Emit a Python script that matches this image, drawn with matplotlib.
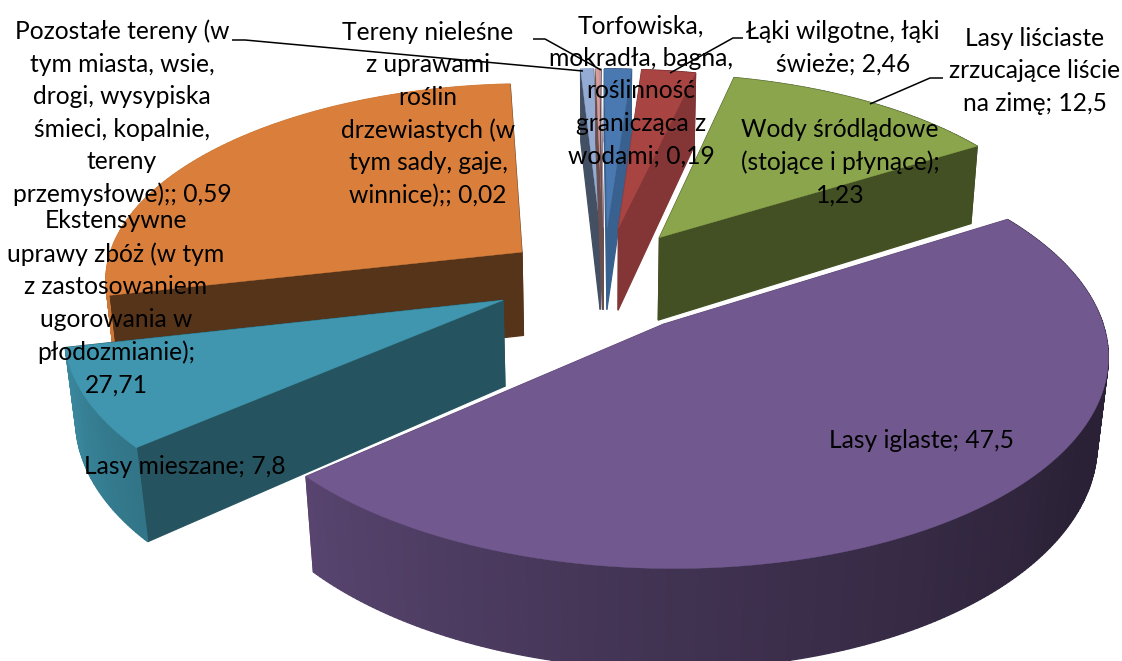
import numpy as np
import matplotlib
matplotlib.use('Agg')
import matplotlib.pyplot as plt
from matplotlib.colors import to_rgb

# clockwise from the green slice
names = ['Lasy liściaste', 'Lasy iglaste', 'Lasy mieszane', 'Ekstensywne uprawy zbóż',
         'Pozostałe tereny', 'Torfowiska', 'Tereny nieleśne', 'Wody śródlądowe', 'Łąki wilgotne']
values = [12.5, 47.5, 7.8, 27.71, 0.59, 0.19, 0.02, 1.23, 2.46]
top_colors = ['#8AA54B', '#71588F', '#4096AE', '#D97F3B', '#94ACD3', '#D79E9C', '#C9B6D0', '#4A78B0', '#A84442']
wall_colors = ['#435023', '#5E4872', '#255460', '#56341A', '#434F63', '#6B4F4E', '#6B4F4E', '#38618F', '#843535']
draw_order = [3, 4, 5, 6, 7, 8, 0, 2, 1]

# per slice tweaks of the 3d look
radius = [0.99, 1.02, 1.02, 1.0, 0.97, 0.97, 0.97, 0.97, 0.97]
nudge_x = [4, 3, -3, 4, 6, 6, 6, 6, 6]
nudge_y = [0, -6, -9, 3, 0, 0, 0, 0, 0]

label_texts = [
    'Lasy liściaste\nzrzucające liście\nna zimę; 12,5',
    'Lasy iglaste; 47,5',
    'Lasy mieszane; 7,8',
    'Ekstensywne\nuprawy zbóż (w tym\nz zastosowaniem\nugorowania w\npłodozmianie);\n27,71',
    'Pozostałe tereny (w\ntym miasta, wsie,\ndrogi, wysypiska\nśmieci, kopalnie,\ntereny\nprzemysłowe);; 0,59',
    'Torfowiska,\nmokradła, bagna,\nroślinność\ngranicząca z\nwodami; 0,19',
    'Tereny nieleśne\nz uprawami\nroślin\ndrzewiastych (w\ntym sady, gaje,\nwinnice);; 0,02',
    'Wody śródlądowe\n(stojące i płynące);\n1,23',
    'Łąki wilgotne, łąki\nświeże; 2,46',
]
label_pos = [(1035, 71), (921, 440), (185, 466), (116, 303), (122, 113),
             (641, 91), (428, 114), (840, 162), (843, 48)]
leaders = [
    [(943, 78), (930, 78), (870, 104)],
    [(232, 40), (245, 40), (583, 71)],
    [(533, 39), (545, 39), (601, 70)],
    [(743, 38), (733, 38), (670, 73)],
]

# camera
XC, YC = 598, 283
A, B = 420, 197
P = 0.127
DEPTH = 85
START = 13.0
EXPLODE = 0.243
EXPLODE_V = 1.2


def project(u, v, z=0.0):
    w = 1 + P * v
    shrink = 1 - 0.02 * z / w ** 2
    x = XC + A * u / w * shrink
    y = YC - B * v / w + DEPTH * z / w
    return x, y


def wall_shade(angle):
    return np.interp(angle % 360, [0, 60, 120, 180, 234, 262, 360],
                     [0.5, 0.38, 0.38, 0.57, 0.8, 0.95, 0.95])


fig = plt.figure(figsize=(11.22, 6.61), dpi=100)
ax = fig.add_axes([0, 0, 1, 1])
ax.set_xlim(0, 1122)
ax.set_ylim(661, 0)
ax.axis('off')

edges = START + np.concatenate([[0], np.cumsum(values)]) * 3.6

for i in draw_order:
    a0, a1 = edges[i], edges[i + 1]
    mid = np.radians((a0 + a1) / 2)
    cu = EXPLODE * np.sin(mid) + nudge_x[i] / A
    cv = EXPLODE * EXPLODE_V * np.cos(mid) - nudge_y[i] / B
    angles = np.linspace(a0, a1, max(3, int((a1 - a0) * 1.5)))
    us = cu + radius[i] * np.sin(np.radians(angles))
    vs = cv + radius[i] * np.cos(np.radians(angles))

    # far faces first, the top face covers what is left of them
    faces = []
    for u_end, v_end in [(us[0], vs[0]), (us[-1], vs[-1])]:
        xt, yt = project(np.array([cu, u_end]), np.array([cv, v_end]))
        xb, yb = project(np.array([cu, u_end]), np.array([cv, v_end]), 1.0)
        faces.append(((cv + v_end) / 2, np.r_[xt, xb[::-1]], np.r_[yt, yb[::-1]], wall_colors[i]))
    base = np.array(to_rgb(top_colors[i]))
    for k in range(len(angles) - 1):
        xt, yt = project(us[k:k + 2], vs[k:k + 2])
        xb, yb = project(us[k:k + 2], vs[k:k + 2], 1.0)
        faces.append((vs[k:k + 2].mean(), np.r_[xt, xb[::-1]], np.r_[yt, yb[::-1]],
                      tuple(base * wall_shade((angles[k] + angles[k + 1]) / 2))))
    faces.sort(key=lambda f: -f[0])
    for _, fx, fy, col in faces:
        ax.fill(fx, fy, color=col, lw=0.9)

    xt, yt = project(np.r_[cu, us], np.r_[cv, vs])
    ax.fill(xt, yt, color=top_colors[i], lw=0.3)

for line in leaders:
    xs, ys = zip(*line)
    ax.plot(xs, ys, color='black', lw=1.1, solid_capstyle='butt')

for text, (x, y) in zip(label_texts, label_pos):
    ax.text(x, y, text, ha='center', va='center', family='Lato', fontsize=17.7,
            linespacing=1.5, color='black')

plt.savefig('out.png', dpi=100)
